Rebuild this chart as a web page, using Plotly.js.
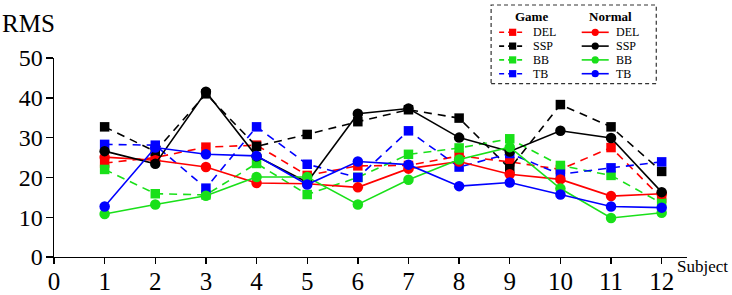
<!DOCTYPE html>
<html>
<head>
<meta charset="utf-8">
<script src="https://cdn.plot.ly/plotly-3.0.1.min.js"></script>
<style>html,body{margin:0;padding:0;background:#fff;}#chart{width:732px;height:295px;}</style>
</head>
<body>
<div id="chart"></div>
<script>
// ---- data ----
const subjects = [1, 2, 3, 4, 5, 6, 7, 8, 9, 10, 11, 12];
const xTickVals = [0, 1, 2, 3, 4, 5, 6, 7, 8, 9, 10, 11, 12];
const yTickVals = [0, 10, 20, 30, 40, 50];

const gameDEL = [23.6, 25.0, 27.6, 28.1, 20.5, 22.9, 23.0, 25.4, 23.9, 22.0, 27.5, 14.8];
const gameSSP = [32.7, 26.5, 41.0, 27.8, 30.8, 34.0, 37.0, 34.9, 22.2, 38.3, 32.7, 21.5];
const gameBB  = [22.0, 15.9, 15.6, 23.5, 15.7, 20.0, 25.8, 27.4, 29.7, 23.0, 20.5, 13.5];
const gameTB  = [28.3, 28.1, 17.3, 32.7, 23.3, 20.0, 31.7, 22.6, 26.0, 20.8, 22.4, 23.9];

const normDEL = [25.1, 24.3, 22.6, 18.6, 18.4, 17.5, 22.2, 24.0, 20.8, 19.5, 15.3, 15.9];
const normSSP = [26.6, 23.4, 41.5, 25.3, 18.8, 36.0, 37.3, 30.0, 26.5, 31.7, 29.9, 16.3];
const normBB  = [10.8, 13.2, 15.4, 20.1, 20.1, 13.2, 19.4, 24.5, 27.6, 17.2, 9.8, 11.1];
const normTB  = [12.7, 27.5, 25.8, 25.4, 18.2, 24.0, 23.2, 17.8, 18.7, 15.7, 12.7, 12.4];

const seriesNames = ['DEL', 'SSP', 'BB', 'TB'];
const groupNames = ['Game', 'Normal'];

// ---- styles ----
const colors = {DEL: '#ff0000', SSP: '#000000', BB: '#19e019', TB: '#0000ff'};
const FONT = '"Liberation Serif"';

const gameData = {DEL: gameDEL, SSP: gameSSP, BB: gameBB, TB: gameTB};
const normData = {DEL: normDEL, SSP: normSSP, BB: normBB, TB: normTB};

const traces = [];
seriesNames.forEach(function (s) {
  traces.push({
    x: subjects, y: gameData[s], type: 'scatter', mode: 'lines+markers',
    name: groupNames[0] + ' ' + s, showlegend: false,
    line: {color: colors[s], width: 1.6, dash: '8px,6px'},
    marker: {symbol: 'square', size: 9.5, color: colors[s]}
  });
});
seriesNames.forEach(function (s) {
  traces.push({
    x: subjects, y: normData[s], type: 'scatter', mode: 'lines+markers',
    name: groupNames[1] + ' ' + s, showlegend: false,
    line: {color: colors[s], width: 1.6},
    marker: {symbol: 'circle', size: 10.5, color: colors[s]}
  });
});

// ---- geometry of plot area (pixels) ----
const W = 732, H = 295;
const mL = 54.3, mR = 45.3, mT = 57.7, mB = 38.3;
const pw = W - mL - mR, ph = H - mT - mB;
function px(X) { return (X - mL) / pw; }
function py(Y) { return (H - mB - Y) / ph; }

// ---- manual legend ----
const shapes = [];
const annotations = [];
shapes.push({type: 'rect', xref: 'paper', yref: 'paper',
  x0: px(491), x1: px(656), y0: py(83.3), y1: py(4.7),
  line: {color: '#333', width: 1.2, dash: '4px,3px'}, fillcolor: 'rgba(0,0,0,0)'});
annotations.push({xref: 'paper', yref: 'paper', x: px(531.7), y: py(16), text: '<b>' + groupNames[0] + '</b>',
  showarrow: false, xanchor: 'center', yanchor: 'middle', font: {family: FONT, size: 13, color: '#000'}});
annotations.push({xref: 'paper', yref: 'paper', x: px(610), y: py(16), text: '<b>' + groupNames[1] + '</b>',
  showarrow: false, xanchor: 'center', yanchor: 'middle', font: {family: FONT, size: 13, color: '#000'}});
const rowY = [32.0, 45.8, 59.6, 73.4];
const cols = [{l0: 499, l1: 526, m: 512.5, t: 532, dash: '5px,4px', sym: 'rect'},
              {l0: 581.5, l1: 608.5, m: 595, t: 614.5, dash: 'solid', sym: 'circle'}];
seriesNames.forEach(function (s, i) {
  const yy = rowY[i];
  cols.forEach(function (c) {
    shapes.push({type: 'line', xref: 'paper', yref: 'paper', x0: px(c.l0), x1: px(c.l1), y0: py(yy), y1: py(yy),
      line: {color: colors[s], width: 1.6, dash: c.dash}});
    const r = 3.6;
    shapes.push({type: c.sym, xref: 'paper', yref: 'paper', x0: px(c.m - r), x1: px(c.m + r), y0: py(yy + r), y1: py(yy - r),
      line: {color: colors[s], width: 0}, fillcolor: colors[s]});
    annotations.push({xref: 'paper', yref: 'paper', x: px(c.t), y: py(yy), text: s, showarrow: false,
      xanchor: 'left', yanchor: 'middle', borderpad: 0,
      font: {family: FONT, size: 12, color: '#000'}});
  });
});

// axis titles
annotations.push({xref: 'paper', yref: 'paper', x: px(0), y: py(23.5), text: 'RMS', showarrow: false,
  xanchor: 'left', yanchor: 'middle', font: {family: FONT, size: 25, color: '#000'}});
annotations.push({xref: 'paper', yref: 'paper', x: px(675), y: py(266.5), text: 'Subject', showarrow: false,
  xanchor: 'left', yanchor: 'middle', font: {family: FONT, size: 17, color: '#000'}});

const layout = {
  width: W, height: H,
  margin: {l: mL, r: mR, t: mT, b: mB, pad: 0},
  paper_bgcolor: '#fff', plot_bgcolor: '#fff',
  showlegend: false,
  font: {family: FONT, color: '#000'},
  xaxis: {
    range: [0, 12.5], tickmode: 'array', tickvals: xTickVals, ticktext: xTickVals.map(String),
    showgrid: false, zeroline: false, showline: true, linecolor: '#000', linewidth: 1.4,
    ticks: 'outside', ticklen: 6, tickwidth: 1.4, tickcolor: '#000',
    ticklabelstandoff: -4,
    tickfont: {family: FONT, size: 25, color: '#000'}
  },
  yaxis: {
    range: [0, 50], tickmode: 'array', tickvals: yTickVals, ticktext: yTickVals.map(String),
    showgrid: false, zeroline: false, showline: true, linecolor: '#000', linewidth: 1.4,
    ticks: 'outside', ticklen: 7, tickwidth: 1.4, tickcolor: '#000',
    ticklabelstandoff: -2,
    tickfont: {family: FONT, size: 24, color: '#000'}
  },
  shapes: shapes,
  annotations: annotations
};

Plotly.newPlot('chart', traces, layout, {staticPlot: true, displayModeBar: false});
</script>
</body>
</html>
